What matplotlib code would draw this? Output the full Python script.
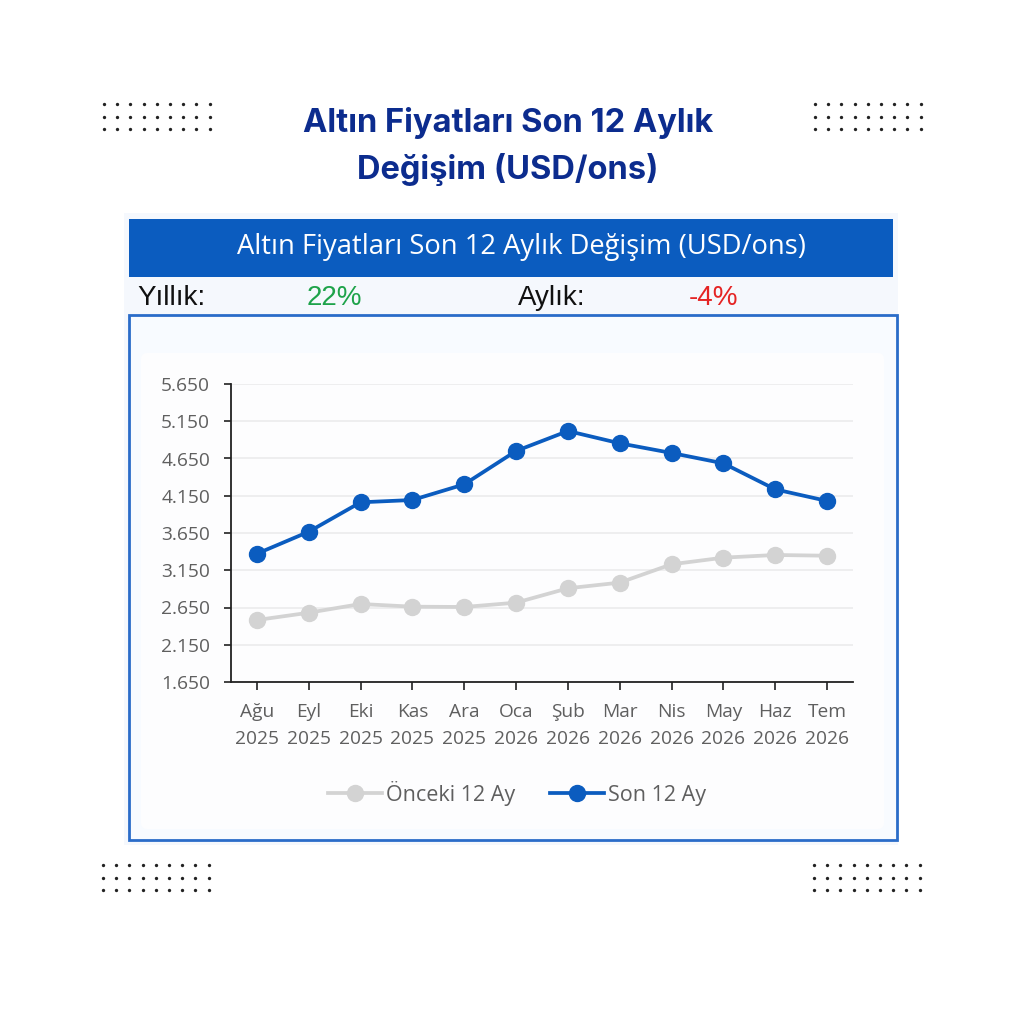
import matplotlib
matplotlib.use("Agg")
import matplotlib.pyplot as plt
from matplotlib.patches import Rectangle, FancyBboxPatch

# ---- data ----
months = ["Ağu\n2025", "Eyl\n2025", "Eki\n2025", "Kas\n2025", "Ara\n2025", "Oca\n2026",
          "Şub\n2026", "Mar\n2026", "Nis\n2026", "May\n2026", "Haz\n2026", "Tem\n2026"]
son_12 = [3372, 3667, 4062, 4093, 4303, 4751, 5019, 4854, 4724, 4585, 4236, 4080]
onceki_12 = [2482, 2580, 2697, 2661, 2657, 2715, 2908, 2984, 3230, 3319, 3355, 3345]
y_ticks = [1650, 2150, 2650, 3150, 3650, 4150, 4650, 5150, 5650]
y_tick_labels = ["1.650", "2.150", "2.650", "3.150", "3.650", "4.150", "4.650", "5.150", "5.650"]
main_title_1 = "Altın Fiyatları Son 12 Aylık"
main_title_2 = "Değişim (USD/ons)"
banner_title = "Altın Fiyatları Son 12 Aylık Değişim (USD/ons)"
yillik = "22%"
aylik = "-4%"

BLUE = "#0b5cbf"
GRAY = "#d3d3d3"
NAVY = "#0c2c8e"
TICK = "#5f5f5f"

fig = plt.figure(figsize=(10.24, 10.24), dpi=100)
fig.patch.set_facecolor("white")

# background / decoration axes in pixel coordinates
bg = fig.add_axes([0, 0, 1, 1], zorder=0)
bg.set_xlim(0, 1024)
bg.set_ylim(1024, 0)
bg.axis("off")

bg.add_patch(Rectangle((124, 213), 774, 632, facecolor="#f5f8fd", edgecolor="none"))
bg.add_patch(Rectangle((129, 219), 764, 58, facecolor=BLUE, edgecolor="none"))
bg.add_patch(Rectangle((129, 315), 768, 525, facecolor="#f8fbff", edgecolor="#2a6cc9", lw=2))
bg.add_patch(FancyBboxPatch((141, 353), 743, 476, boxstyle="round,pad=0,rounding_size=6",
                            facecolor="#fdfdfe", edgecolor="none"))

# dot grids
for x0, y0 in [(104, 104), (815, 104), (103, 865), (814, 865)]:
    for r in range(3):
        for c in range(9):
            bg.plot(x0 + c * 13.2, y0 + r * 12.5, "o", color="#222222", ms=2.4, mec="none")

# titles and header texts
bg.text(508, 123, main_title_1, ha="center", va="center", fontsize=23.5, fontweight="bold",
        color=NAVY, family="Inter")
bg.text(508, 170, main_title_2, ha="center", va="center", fontsize=23.5, fontweight="bold",
        color=NAVY, family="Inter")
bg.text(521, 247, banner_title, ha="center", va="center", fontsize=19.7, color="white",
        family="Open Sans")
bg.text(137, 298, "Yıllık:", ha="left", va="center", fontsize=20, color="#111111",
        family="Liberation Sans")
bg.text(307, 298, yillik, ha="left", va="center", fontsize=20, color="#1ea34a",
        family="Liberation Sans")
bg.text(518, 298, "Aylık:", ha="left", va="center", fontsize=20, color="#111111",
        family="Liberation Sans")
bg.text(689, 298, aylik, ha="left", va="center", fontsize=20, color="#e52424",
        family="Liberation Sans")

# chart axes
ax = fig.add_axes([231 / 1024, 1 - 682 / 1024, (853 - 231) / 1024, (682 - 384) / 1024], zorder=2)
ax.set_facecolor("none")
x = list(range(len(months)))
ax.plot(x, onceki_12, color=GRAY, lw=2.7, marker="o", ms=11.5, zorder=3, label="Önceki 12 Ay")
ax.plot(x, son_12, color=BLUE, lw=2.7, marker="o", ms=11.5, zorder=4, label="Son 12 Ay")

ax.set_xlim(-0.5, len(months) - 0.5)
ax.set_ylim(y_ticks[0], y_ticks[-1])
ax.set_yticks(y_ticks)
ax.set_yticklabels(y_tick_labels)
ax.set_xticks(x)
ax.set_xticklabels(months, linespacing=1.62)
ax.grid(axis="y", color="#ececec", lw=1.2)
ax.set_axisbelow(True)
for s in ["top", "right"]:
    ax.spines[s].set_visible(False)
for s in ["left", "bottom"]:
    ax.spines[s].set_color("#222222")
    ax.spines[s].set_linewidth(1.3)
ax.tick_params(axis="x", length=6, width=1.2, color="#222222", pad=9)
ax.tick_params(axis="y", length=5, width=1.2, color="#222222", pad=10)
for lab in ax.get_xticklabels() + ax.get_yticklabels():
    lab.set_fontfamily("Open Sans")
    lab.set_fontsize(13.8)
    lab.set_color(TICK)

leg = ax.legend(loc="center", bbox_to_anchor=(517 / 1024, 1 - 793 / 1024),
                bbox_transform=fig.transFigure, ncol=2, frameon=False,
                handlelength=2.5, columnspacing=1.6, handletextpad=0.2,
                prop={"family": "Open Sans", "size": 15.5})
for t in leg.get_texts():
    t.set_color(TICK)

fig.savefig("out.png", dpi=100, facecolor="white")
